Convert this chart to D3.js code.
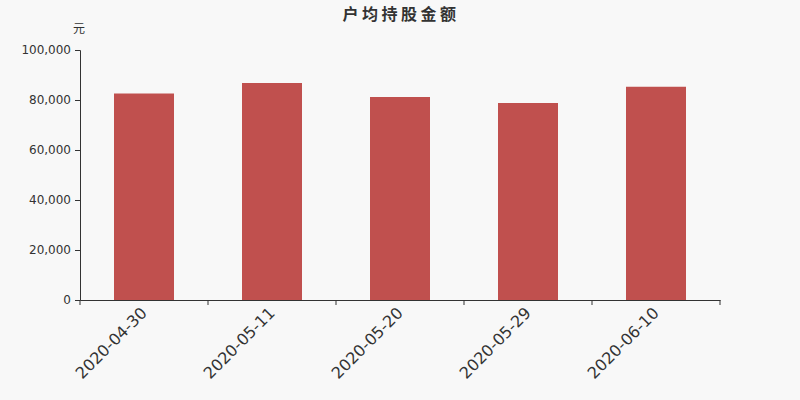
<!DOCTYPE html>
<html>
<head>
<meta charset="utf-8">
<script src="https://cdn.jsdelivr.net/npm/d3@7"></script>
<style>
  body { margin: 0; background: #f8f8f8; }
  svg { display: block; font-family: "DejaVu Sans", "Noto Sans CJK SC", sans-serif; }
</style>
</head>
<body>
<script>
var dates = ["2020-04-30", "2020-05-11", "2020-05-20", "2020-05-29", "2020-06-10"];
var amounts = [82600, 86800, 81200, 78800, 85300];
var yTicks = [0, 20000, 40000, 60000, 80000, 100000];

var width = 800, height = 400;
var margin = {top: 50, left: 80, right: 80, bottom: 100};

var svg = d3.select("body").append("svg")
    .attr("width", width)
    .attr("height", height)
    .style("background", "#f8f8f8");

var x = d3.scaleBand().domain(dates)
    .range([margin.left, width - margin.right]);
var y = d3.scaleLinear().domain([0, 100000])
    .range([height - margin.bottom, margin.top]);

svg.append("text")
    .attr("x", width / 2 + 1).attr("y", 20)
    .attr("text-anchor", "middle")
    .style("font-size", "16px").style("font-weight", "bold")
    .style("letter-spacing", "3.5px")
    .style("fill", "#333")
    .text("户均持股金额");

svg.append("text")
    .attr("x", 79).attr("y", 33)
    .attr("text-anchor", "middle")
    .style("font-size", "12px").style("fill", "#333")
    .text("元");

svg.selectAll("rect.bar")
    .data(dates)
    .enter().append("rect")
    .attr("class", "bar")
    .attr("x", (d) => x(d) + (x.bandwidth() - 60) / 2)
    .attr("width", 60)
    .attr("y", (d, i) => y(amounts[i]))
    .attr("height", (d, i) => y(0) - y(amounts[i]))
    .style("fill", "#c0504e");

var yAxis = svg.append("g")
    .attr("transform", "translate(" + margin.left + ",0)")
    .call(d3.axisLeft(y).tickValues(yTicks).tickSize(5).tickPadding(4).tickFormat(d3.format(",")));
yAxis.selectAll("text").style("font-size", "12px").style("fill", "#333").style("font-family", "DejaVu Sans");
yAxis.selectAll("line, path").style("stroke", "#333");

var xAxis = svg.append("g")
    .attr("transform", "translate(0," + y(0) + ")")
    .call(d3.axisBottom(x).tickSize(0).tickPadding(0));
xAxis.select("path").style("stroke", "#333");
xAxis.selectAll("text")
    .style("font-size", "16px").style("fill", "#333").style("font-family", "DejaVu Sans")
    .attr("text-anchor", "end")
    .attr("dy", "0")
    .attr("transform", "translate(4,14) rotate(-45)");

// tick marks at band boundaries
var bounds = dates.map((d) => x(d)).concat([width - margin.right]);
svg.selectAll("line.xtick")
    .data(bounds)
    .enter().append("line")
    .attr("class", "xtick")
    .attr("x1", (d) => d).attr("x2", (d) => d)
    .attr("y1", y(0)).attr("y2", y(0) + 5)
    .style("stroke", "#333");
</script>
</body>
</html>
